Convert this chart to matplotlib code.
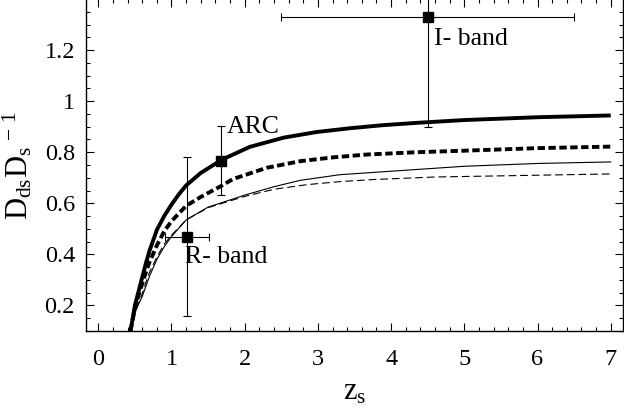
import matplotlib
matplotlib.use('Agg')
import matplotlib.pyplot as plt
from matplotlib.ticker import MultipleLocator, FixedLocator

plt.rcParams['font.family'] = ['Liberation Serif', 'DejaVu Serif']
plt.rcParams['mathtext.fontset'] = 'custom'
plt.rcParams['mathtext.rm'] = 'Liberation Serif'
plt.rcParams['mathtext.it'] = 'Liberation Serif'

# curves: D_ds/D_s versus source redshift
z_thick = [0.44, 0.47, 0.5, 0.55, 0.6, 0.65, 0.7, 0.75, 0.8, 0.9, 1.0, 1.1, 1.2, 1.4, 1.69, 2.07, 2.53, 2.98, 3.44, 3.89, 4.35, 5.0, 6.0, 7.0]
d_thick = [0.10, 0.15, 0.20, 0.255, 0.31, 0.365, 0.415, 0.455, 0.496, 0.55, 0.595, 0.635, 0.67, 0.719, 0.771, 0.821, 0.857, 0.879, 0.894, 0.906, 0.915, 0.926, 0.937, 0.944]

z_thickdash = [0.44, 0.47, 0.5, 0.55, 0.6, 0.65, 0.7, 0.8, 0.9, 1.0, 1.2, 1.4, 1.66, 1.84, 2.3, 2.76, 3.21, 3.67, 4.35, 5.0, 6.0, 7.0]
d_thickdash = [0.10, 0.145, 0.185, 0.24, 0.285, 0.33, 0.37, 0.435, 0.49, 0.53, 0.59, 0.625, 0.665, 0.695, 0.739, 0.765, 0.78, 0.791, 0.80, 0.806, 0.816, 0.822]

z_thin = [0.44, 0.47, 0.5, 0.55, 0.6, 0.65, 0.7, 0.8, 0.9, 1.0, 1.2, 1.5, 2.0, 2.4, 2.76, 3.3, 4.12, 5.0, 6.0, 7.0]
d_thin = [0.10, 0.14, 0.17, 0.205, 0.235, 0.275, 0.315, 0.38, 0.43, 0.47, 0.535, 0.585, 0.632, 0.665, 0.69, 0.712, 0.728, 0.745, 0.756, 0.762]

z_thindash = [0.44, 0.47, 0.5, 0.55, 0.6, 0.65, 0.7, 0.8, 0.9, 1.0, 1.2, 1.5, 2.0, 2.4, 2.85, 3.3, 3.75, 4.6, 5.0, 6.0, 7.0]
d_thindash = [0.10, 0.14, 0.175, 0.21, 0.245, 0.29, 0.33, 0.39, 0.44, 0.475, 0.535, 0.583, 0.627, 0.655, 0.673, 0.685, 0.693, 0.703, 0.705, 0.71, 0.715]

# measured points
pt_names = ['R- band', 'ARC', 'I- band']
pt_z = [1.21, 1.68, 4.5]
pt_d = [0.47, 0.767, 1.33]
pt_zerr = [0.3, 0.0, 2.0]
pt_derr = [0.31, 0.135, 0.43]

fig = plt.figure(figsize=(6.24, 4.08), dpi=100)
ax = fig.add_axes([0.1378, 0.1887, 0.8602, 0.8138])

ax.plot(z_thick, d_thick, color='black', lw=2.8, solid_capstyle='butt')
ax.plot(z_thickdash, d_thickdash, color='black', lw=2.8, dashes=(1.9, 0.9))
ax.plot(z_thin, d_thin, color='black', lw=0.8)
ax.plot(z_thindash, d_thindash, color='black', lw=0.8, dashes=(7, 3.5))

for i in range(len(pt_z)):
    xe = pt_zerr[i] if pt_zerr[i] > 0 else None
    ax.errorbar(pt_z[i], pt_d[i], xerr=xe, yerr=pt_derr[i], fmt='s', color='black',
                ms=7, elinewidth=0.8, capsize=3, capthick=0.8)

ax.text(1.18, 0.39, pt_names[0], fontsize=18.5, va='center', ha='left')
ax.text(1.75, 0.90, pt_names[1], fontsize=18.5, va='center', ha='left')
ax.text(4.58, 1.242, pt_names[2], fontsize=18.5, va='center', ha='left')

ax.set_xlim(-0.168, 7.164)
ax.set_ylim(0.1, 1.4)
ax.xaxis.set_major_locator(MultipleLocator(1))
ax.xaxis.set_minor_locator(MultipleLocator(0.2))
ax.yaxis.set_major_locator(FixedLocator([0.2, 0.4, 0.6, 0.8, 1.0, 1.2]))
ax.yaxis.set_minor_locator(MultipleLocator(0.05))
ax.set_yticklabels(['0.2', '0.4', '0.6', '0.8', '1', '1.2'])
ax.tick_params(which='both', direction='in', top=True, right=True, labelsize=17.5)
ax.tick_params(which='major', length=6, width=0.8)
ax.tick_params(which='minor', length=3, width=0.8)
ax.tick_params(axis='x', pad=13)
ax.tick_params(axis='y', pad=8)
for s in ax.spines.values():
    s.set_linewidth(1.0)

ax.set_xlabel(r'$\mathrm{z_s}$', fontsize=22, labelpad=5)
ax.set_ylabel(r'$\mathrm{D_{ds}D_s}^{\,-\,1}$', fontsize=22, labelpad=7)

fig.savefig('out.png', dpi=100)
